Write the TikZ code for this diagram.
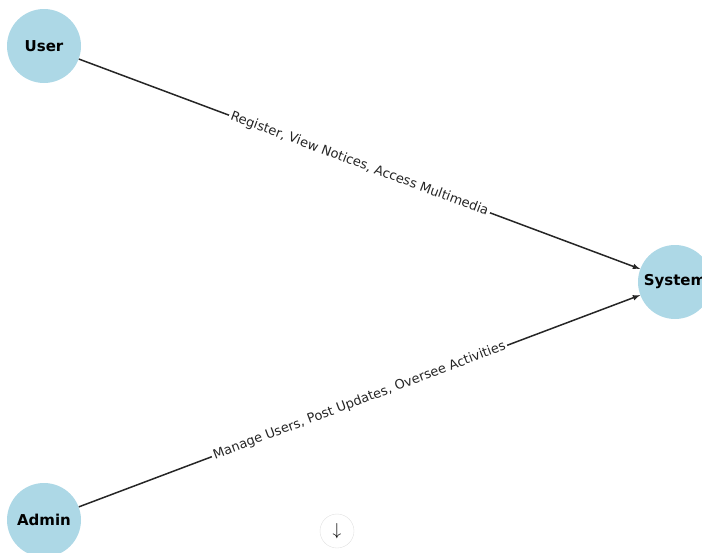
\documentclass[tikz,border=0pt]{standalone}
\usepackage{fontspec}
\setmainfont{DejaVu Sans}
\usepackage{tikz}
\usetikzlibrary{shapes,arrows}

\begin{document}
\begin{tikzpicture}[x=1pt,y=-1pt,
                every path/.style={>=latex},
                actor/.style={circle,fill=actorblue,minimum size=74pt,inner sep=0pt,font=\fontsize{15}{17}\selectfont\bfseries},
                lbl/.style={fill=white,inner sep=2pt,font=\fontsize{13}{15}\selectfont,sloped}]
  \definecolor{actorblue}{RGB}{173,216,230}
  \useasboundingbox (0,0) rectangle (702,552);
  \node[actor]     (user)   at (44,46)   {User};
  \node[actor]     (system) at (675,282) {System};
  \node[actor]     (admin)  at (44,520)  {Admin};
  \draw[->,line width=1.5pt,black!85] (user)  -- node[lbl] {Register, View Notices, Access Multimedia} (system);
  \draw[->,line width=1.5pt,black!85] (admin) -- node[lbl] {Manage Users, Post Updates, Oversee Activities} (system);
  % scroll button
  \node[circle,draw=black!12,minimum size=34pt,inner sep=0pt,font=\fontsize{18}{18}\selectfont] (down) at (337,531) {$\downarrow$};
\end{tikzpicture}
\end{document}
